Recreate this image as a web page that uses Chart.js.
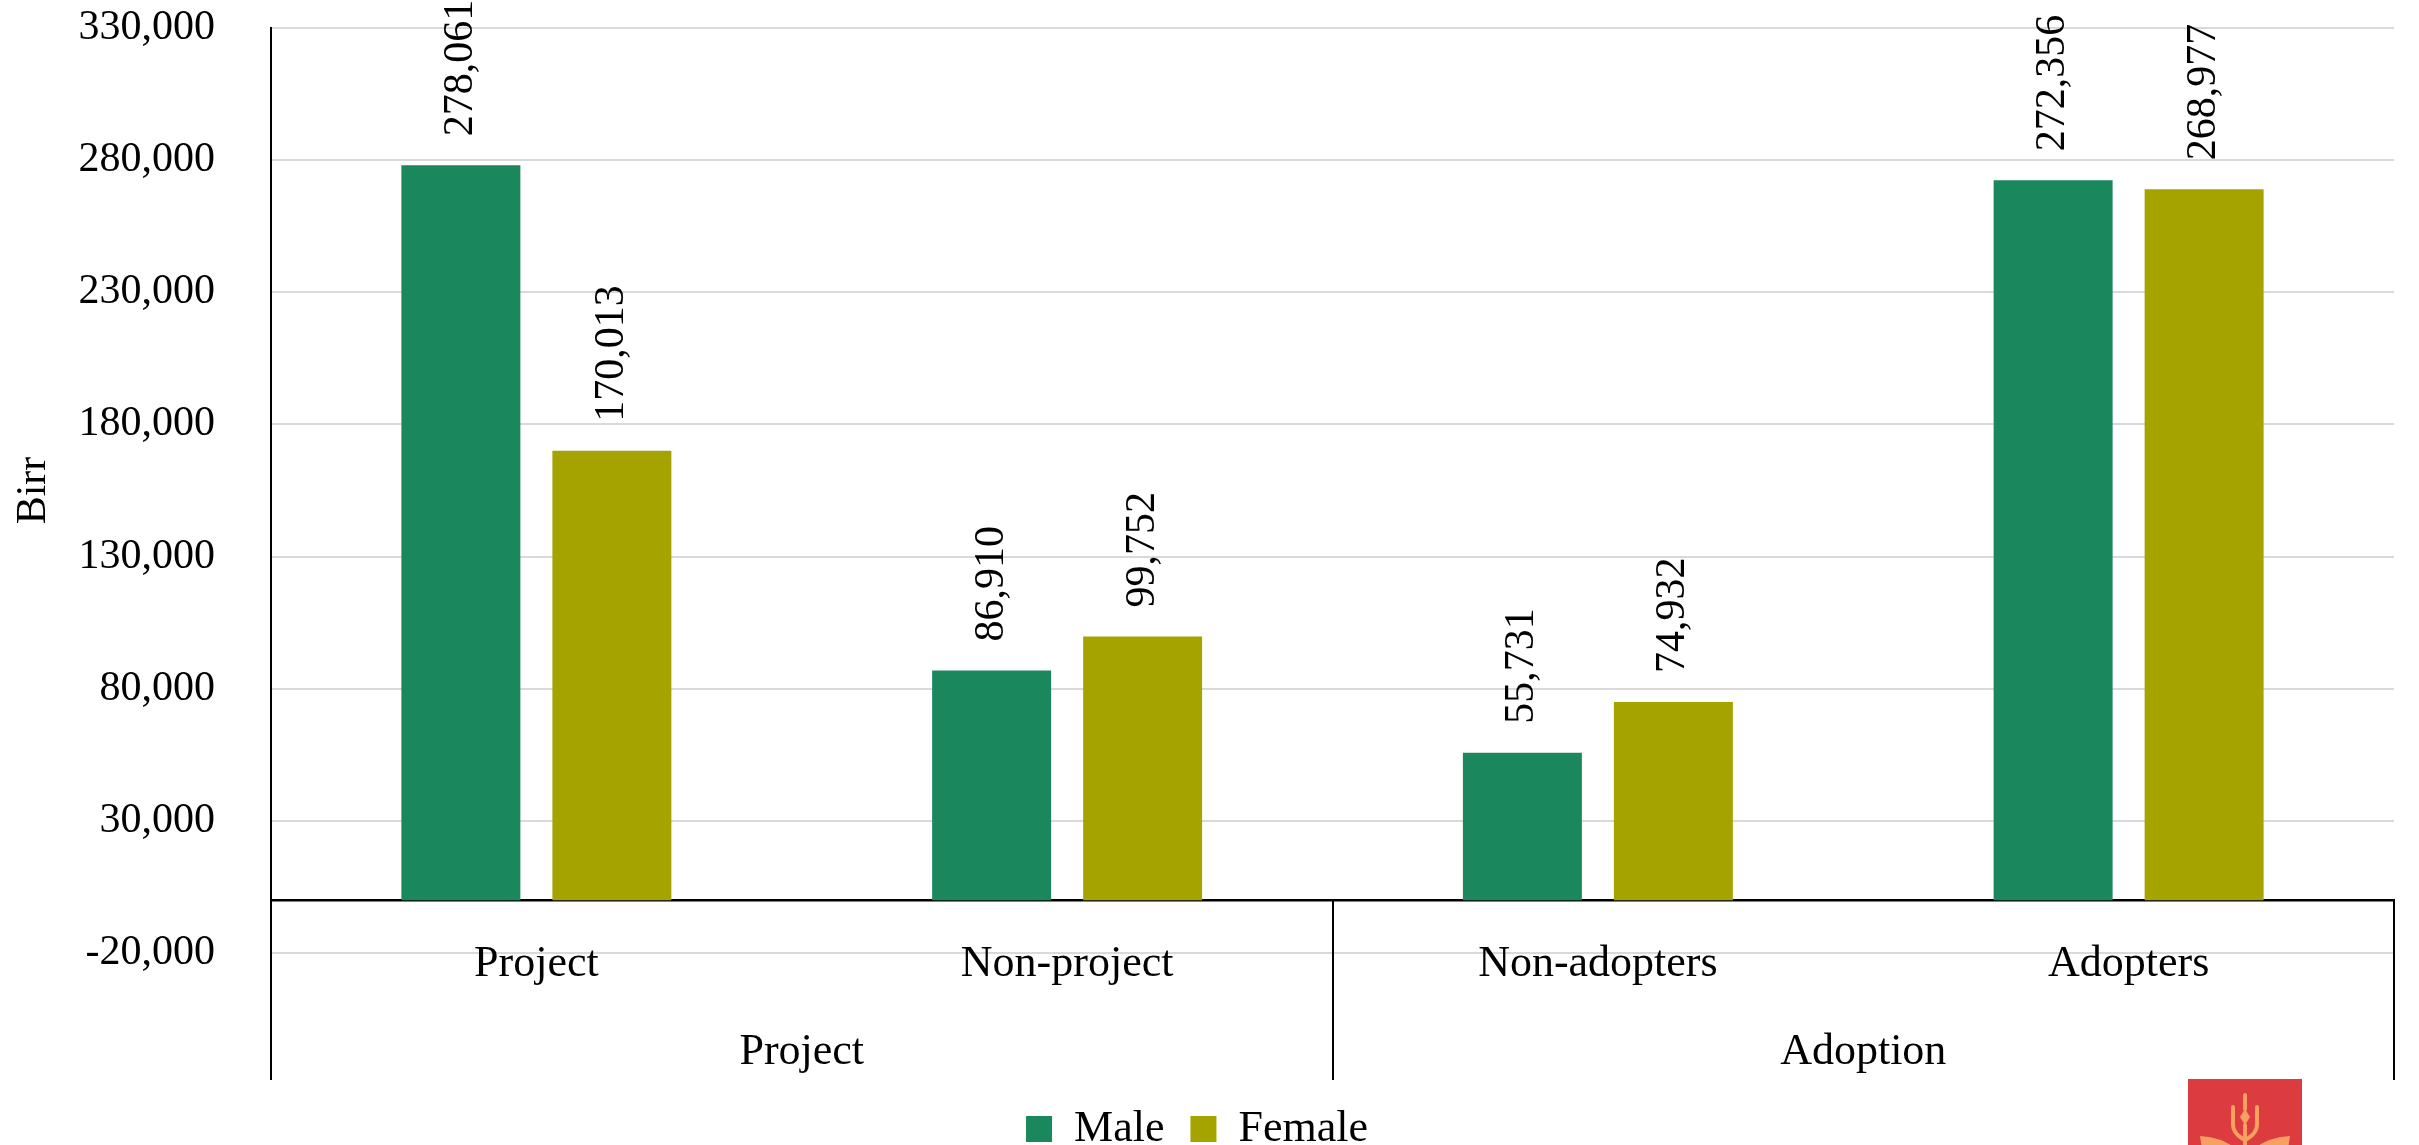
<!DOCTYPE html>
<html>
<head>
<meta charset="utf-8">
<script src="https://cdn.jsdelivr.net/npm/chart.js@4.4.1/dist/chart.umd.min.js"></script>
<style>
  html, body { margin:0; padding:0; background:#fff; }
  #wrap { position:relative; width:2419px; height:1145px; overflow:hidden; }
  #chart { display:block; }
  #logo { position:absolute; left:2188px; top:1079px; width:114px; height:70px; background:#dc3b40; }
</style>
</head>
<body>
<div id="wrap">
  <!-- canvas is a bit taller than the page; the legend's lower padding is clipped away -->
  <canvas id="chart" width="2419" height="1161"></canvas>
  <div id="logo">
    <svg width="114" height="70" viewBox="0 0 114 70">
      <g fill="none" stroke="#f8a062" stroke-width="4" stroke-linecap="round">
        <line x1="57" y1="16" x2="57" y2="30"/>
        <path d="M45 28 L45 46 Q45 54 55 60"/>
        <path d="M69 28 L69 46 Q69 54 59 60"/>
        <line x1="57" y1="46" x2="57" y2="66"/>
      </g>
      <path d="M57 30 L62 38 L57 46 L52 38 Z" fill="#f8a062"/>
      <path d="M12 57 Q34 58 48 70 L14 70 Z" fill="#f8a062"/>
      <path d="M102 57 Q80 58 66 70 L100 70 Z" fill="#f8a062"/>
    </svg>
  </div>
</div>
<script>
const categories  = ["Project", "Non-project", "Non-adopters", "Adopters"];
const groups      = ["Project", "Adoption"];
const maleValues   = [278061, 86910, 55731, 272356];
const femaleValues = [170013, 99752, 74932, 268977];
const yTicks = [-20000, 30000, 80000, 130000, 180000, 230000, 280000, 330000];

const FONT = "'Liberation Serif', 'Times New Roman', serif";
const fmt = v => Number(v).toLocaleString("en-US");

Chart.defaults.color = "#000";
Chart.defaults.font.family = FONT;

// rotated value labels above each bar
const valueLabels = {
  id: "valueLabels",
  afterDatasetsDraw(chart) {
    const ctx = chart.ctx;
    ctx.save();
    ctx.font = "42px " + FONT;
    ctx.fillStyle = "#000";
    ctx.textAlign = "left";
    ctx.textBaseline = "middle";
    chart.data.datasets.forEach((ds, di) => {
      chart.getDatasetMeta(di).data.forEach((bar, i) => {
        ctx.save();
        ctx.translate(bar.x, bar.y - 29);
        ctx.rotate(-Math.PI / 2);
        ctx.fillText(fmt(ds.data[i]), 0, 0);
        ctx.restore();
      });
    });
    ctx.restore();
  }
};

// multi-level category separators below the zero line
const separators = {
  id: "separators",
  afterDraw(chart) {
    const {ctx, scales: {x, y, x2}} = chart;
    const step = x.getPixelForValue(1) - x.getPixelForValue(0);
    const xs = [x.getPixelForValue(0) - step / 2, x.getPixelForValue(2) - step / 2, x.getPixelForValue(3) + step / 2];
    const top = y.getPixelForValue(0), bottom = x2.top + 127;
    ctx.save();
    ctx.strokeStyle = "#000";
    ctx.lineWidth = 2;
    xs.forEach(px => {
      ctx.beginPath();
      ctx.moveTo(Math.round(px), top);
      ctx.lineTo(Math.round(px), bottom);
      ctx.stroke();
    });
    ctx.restore();
  }
};

new Chart(document.getElementById("chart"), {
  type: "bar",
  data: {
    labels: categories,
    datasets: [
      { label: "Male",   data: maleValues,   backgroundColor: "#1a875c", categoryPercentage: 0.569, barPercentage: 0.788 },
      { label: "Female", data: femaleValues, backgroundColor: "#a5a300", categoryPercentage: 0.569, barPercentage: 0.788 }
    ]
  },
  options: {
    responsive: false,
    animation: false,
    layout: { padding: { top: 28, right: 25, left: 0, bottom: 0 } },
    plugins: {
      legend: {
        position: "bottom",
        labels: { font: { size: 44, family: FONT }, boxWidth: 26, boxHeight: 26, padding: 26, color: "#000" }
      },
      tooltip: { enabled: false }
    },
    scales: {
      x: {
        position: { y: 0 },
        grid: { display: true, drawOnChartArea: false, drawTicks: false },
        border: { display: true, color: "#000", width: 2.5 },
        ticks: { font: { size: 44, family: FONT }, padding: 38, color: "#000" }
      },
      x2: {
        type: "category",
        labels: groups,
        position: "bottom",
        offset: true,
        grid: { display: false, drawTicks: false },
        border: { display: false },
        ticks: { font: { size: 44, family: FONT }, padding: 73, color: "#000" },
        afterFit: s => { s.height = 128; }
      },
      y: {
        min: -20000,
        max: 330000,
        afterBuildTicks: s => { s.ticks = yTicks.map(v => ({ value: v })); },
        afterFit: s => { s.width = 271; },
        // invisible tick marks give the label gap without padding the chart top
        grid: { color: "#d9d9d9", lineWidth: 2, drawTicks: true, tickLength: 56, tickColor: "rgba(0,0,0,0)" },
        border: { display: true, color: "#000", width: 2 },
        ticks: { font: { size: 42, family: FONT }, padding: 0, color: "#000", callback: v => fmt(v) },
        title: { display: true, text: "Birr", font: { size: 42, family: FONT }, color: "#000", padding: { top: 9, bottom: 0 } }
      }
    }
  },
  plugins: [valueLabels, separators]
});
</script>
</body>
</html>
